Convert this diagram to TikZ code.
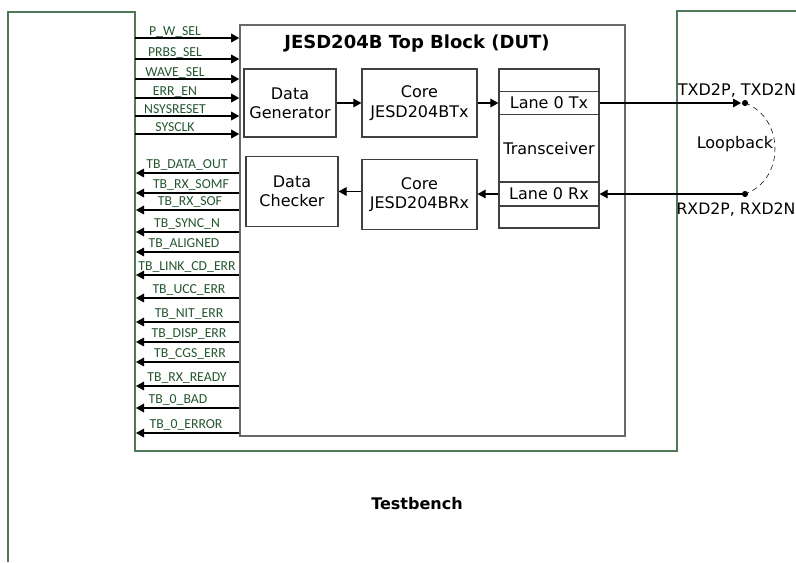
\documentclass[tikz,border=0pt]{standalone}
\usepackage{fontspec}
\setmainfont{DejaVu Sans}
\newfontfamily\sigfont{Carlito}
\usepackage{tikz}
\usetikzlibrary{arrows.meta,positioning,calc}
\definecolor{cadre}{RGB}{78,120,88}
\definecolor{signal}{RGB}{36,86,46}
\definecolor{bord}{RGB}{105,105,105}

\begin{document}
\begin{tikzpicture}[x=0.75pt,y=-0.75pt,
    bloc/.style={draw=black!75,line width=0.9pt,align=center,inner sep=0pt,
      font=\fontsize{12}{14.5}\selectfont},
    fleche/.style={-{Triangle[length=6pt,width=6.5pt]},line width=0.8pt},
    sig/.style={font=\sigfont\fontsize{10.3}{12}\selectfont,text=signal,inner sep=0pt,anchor=base}]
    % unite : 1 px de la capture = 0.75pt
    \useasboundingbox (0,0) rectangle (796,562);
    \draw[cadre,line width=1pt](8,562)--(8,12)--(135,12)--(135,451)--(677,451)--(677,11)--(796,11);
    \node[draw=bord,line width=1.2pt,minimum width=288.75pt,minimum height=308.25pt,inner sep=0pt] (dut) at (432.5,230.5) {};
    \node[font=\bfseries\fontsize{13.5}{16}\selectfont] (titre) at (417,44) {JESD204B Top Block (DUT)};
    \node[bloc,minimum width=69pt,minimum height=51pt] (gen) at (290,103) {Data\\Generator};
    \node[bloc,minimum width=86.25pt,minimum height=51pt] (coretx) at (419.5,103) {Core\\JESD204BTx};
    \node[bloc,minimum width=75pt,minimum height=119.25pt] (trx) at (549,148.5) {Transceiver};
    \node[bloc,fill=white,minimum width=75pt,minimum height=17pt] (lanetx) at (549,103) {Lane 0 Tx};
    \node[bloc,fill=white,minimum width=75pt,minimum height=18pt] (lanerx) at (549,194) {Lane 0 Rx};
    \node[bloc,minimum width=69pt,minimum height=52pt] (chk) at (292,191.5) {Data\\Checker};
    \node[bloc,minimum width=86.25pt,minimum height=52pt] (corerx) at (419.5,194.5) {Core\\JESD204BRx};
    \draw[fleche](gen)--(coretx);
    \draw[fleche](coretx.east|-lanetx)--(lanetx);
    \draw[fleche](lanerx)--(corerx.east|-lanerx);
    \draw[fleche](corerx.west|-chk.east)--(chk.east);
    % boucle externe
    \coordinate (txpin) at (745,103);
    \coordinate (rxpin) at (745,194);
    \draw[fleche,shorten >=3pt](lanetx)--(txpin);
    \draw[fleche](rxpin)--(lanerx);
    \fill (txpin) circle (2.3pt);
    \fill (rxpin) circle (2.3pt);
    \draw[dash pattern=on 4pt off 3pt](txpin) .. controls (785,118) and (785,180) .. (rxpin);
    \node[font=\fontsize{12}{14}\selectfont] (boucle) at (735,144) {Loopback};
    \node[font=\fontsize{12}{14}\selectfont] (txlab) at (737,90) {TXD2P, TXD2N};
    \node[font=\fontsize{11.8}{14}\selectfont] (rxlab) at (736,210) {RXD2P, RXD2N};
    \foreach \nom/\y [count=\i] in {P\_W\_SEL/38,PRBS\_SEL/59,WAVE\_SEL/79,ERR\_EN/98,NSYSRESET/116,SYSCLK/134}{
      \coordinate (e\i) at (135,\y);
      \draw[fleche](e\i)--(e\i-|dut.west);
      \node[sig] (lab-e\i) at (175,{\y-2.5}) {\nom};}
    \foreach \nom/\y/\xl [count=\i] in {TB\_DATA\_OUT/173/187,TB\_RX\_SOMF/193/191,TB\_RX\_SOF/210/190,
        TB\_SYNC\_N/232/187,TB\_ALIGNED/252/184,TB\_LINK\_CD\_ERR/275/187,TB\_UCC\_ERR/298/189,
        TB\_NIT\_ERR/322/189,TB\_DISP\_ERR/342/189,TB\_CGS\_ERR/362/190,TB\_RX\_READY/386/187,
        TB\_0\_BAD/408/178,TB\_0\_ERROR/433/186}{
      \coordinate (s\i) at (136,\y);
      \draw[fleche](s\i-|dut.west)--(s\i);
      \node[sig] (lab-s\i) at (\xl,{\y-5}) {\nom};}
    \node[font=\bfseries\fontsize{12}{14}\selectfont] (banc) at (417,504) {Testbench};
\end{tikzpicture}
\end{document}
